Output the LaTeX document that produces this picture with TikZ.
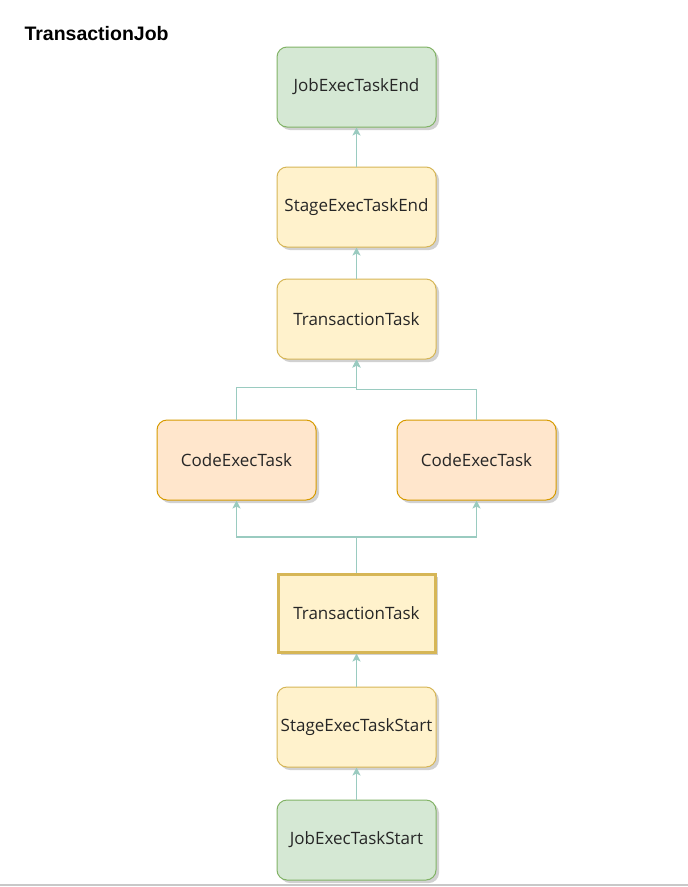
\documentclass[tikz,border=0pt]{standalone}
\usepackage{fontspec}
\setmainfont{Open Sans}
\newfontfamily\titlefont{Liberation Sans}
\usetikzlibrary{arrows.meta,shadows}
\definecolor{greenfill}{HTML}{D5E8D4}
\definecolor{greenline}{HTML}{82B366}
\definecolor{yellowfill}{HTML}{FFF2CC}
\definecolor{yellowline}{HTML}{D6B656}
\definecolor{orangefill}{HTML}{FFE6CC}
\definecolor{orangeline}{HTML}{D79B00}
\definecolor{linkcolor}{HTML}{9ACBC0}
\definecolor{framegray}{HTML}{C8C8C8}
\begin{document}
\begin{tikzpicture}[x=1pt,y=-1pt,
  taskbox/.style={rectangle, rounded corners=10pt, minimum width=159pt, minimum height=80pt,
    line width=1pt, font=\fontsize{17}{20}\selectfont, text=black!85, inner sep=1pt,
    drop shadow={shadow xshift=3pt, shadow yshift=-3pt, fill=black, opacity=0.18}},
  jobbox/.style={taskbox, fill=greenfill, draw=greenline},
  stagebox/.style={taskbox, fill=yellowfill, draw=yellowline},
  codebox/.style={taskbox, fill=orangefill, draw=orangeline},
  groupbox/.style={taskbox, rounded corners=0pt, fill=yellowfill, draw=yellowline, line width=3pt,
    minimum width=157pt, minimum height=78pt},
  link/.style={draw=linkcolor, line width=1.2pt, -{Stealth[length=8pt,width=8pt,inset=2pt]}},
  plain/.style={draw=linkcolor, line width=1.2pt}
]
\useasboundingbox (0,0) rectangle (688,887);
\fill[white] (0,0) rectangle (688,887);

% title
\node[anchor=west, font=\titlefont\bfseries\fontsize{19.5}{22}\selectfont] (title) at (21,34) {TransactionJob};

% tasks
\node[jobbox]   (jobend)     at (356.5,87)  {JobExecTaskEnd};
\node[stagebox] (stageend)   at (356.5,207) {StageExecTaskEnd};
\node[stagebox] (txtop)      at (356.5,319) {TransactionTask};
\node[codebox]  (codeleft)   at (236.5,460) {CodeExecTask};
\node[codebox]  (coderight)  at (476.5,460) {CodeExecTask};
\node[groupbox] (txbottom)   at (356.5,613) {TransactionTask};
\node[stagebox] (stagestart) at (356.5,727) {StageExecTaskStart};
\node[jobbox]   (jobstart)   at (356.5,840) {JobExecTaskStart};

% bottom frame edge
\coordinate (frameleft) at (0,884.5);
\coordinate (frameright) at (688,884.5);
\draw[framegray, line width=2pt] (frameleft) -- (frameright);

% straight links
\draw[link] (jobstart.north) -- (stagestart.south);
\draw[link] (stagestart.north) -- (txbottom.south);
\draw[link] (txtop.north) -- (stageend.south);
\draw[link] (stageend.north) -- (jobend.south);

% fan-out to the code tasks
\coordinate (split) at (356.5,537);
\draw[plain] (txbottom.north) -- (split);
\draw[link] (split) -| (codeleft.south);
\draw[link] (split) -| (coderight.south);

% fan-in to the upper transaction task
\draw[link] (codeleft.north) |- (356.5,387.5) -- (txtop.south);
\draw[link] (coderight.north) |- (356.5,389.5) -- (txtop.south);
\end{tikzpicture}
\end{document}
